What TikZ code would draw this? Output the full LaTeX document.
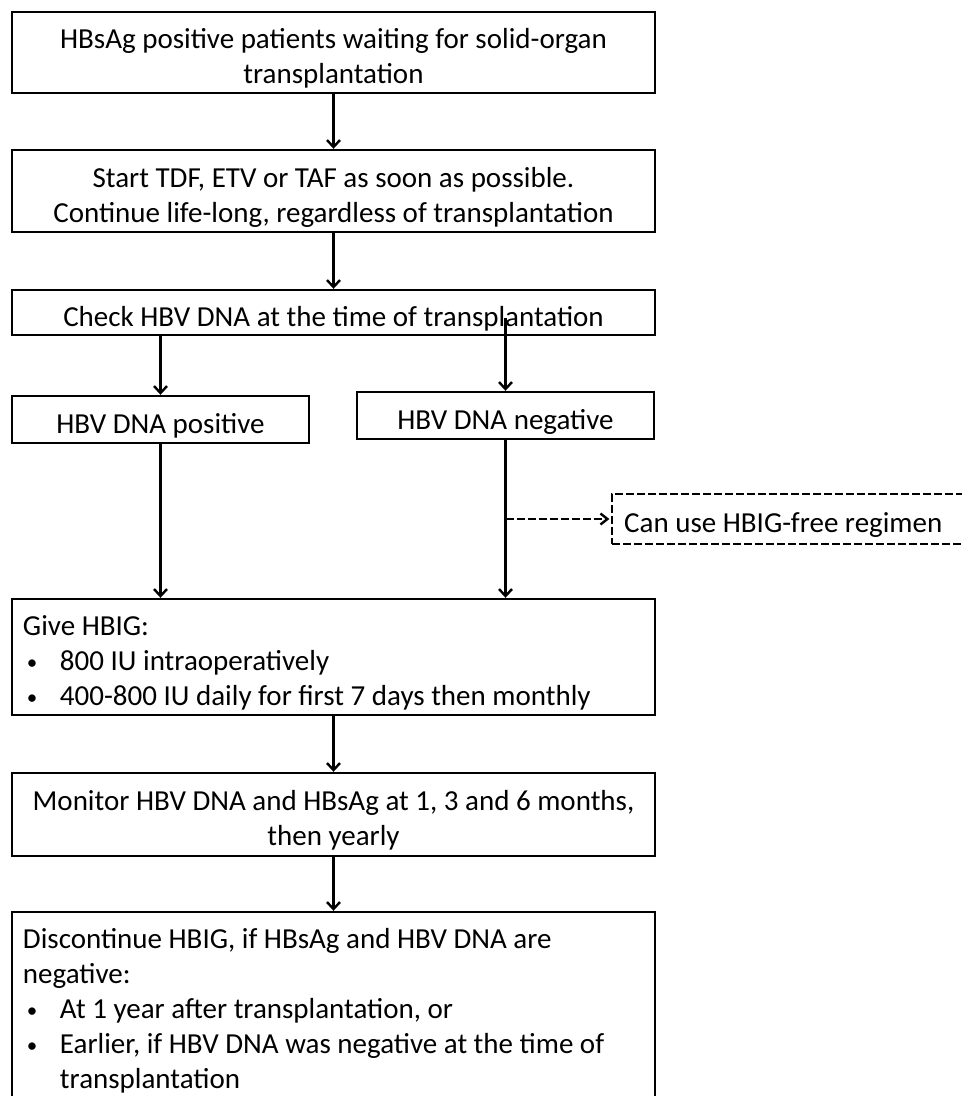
\documentclass[tikz,border=0pt]{standalone}
\usepackage{fontspec}
\setmainfont{Carlito}
\usetikzlibrary{arrows.meta,calc}
\begin{document}
\begin{tikzpicture}[x=1pt,y=-1pt,
  box/.style={draw,line width=2.4pt,rectangle,inner sep=0pt,font=\fontsize{29}{35}\selectfont},
  lbox/.style={box,inner xsep=11pt},
  flow/.style={line width=2.4pt,-{Straight Barb[length=7pt,width=13pt,line width=2.4pt]}},
  dflow/.style={line width=2.4pt,dash pattern=on 8pt off 3pt,-{Straight Barb[length=7pt,width=11pt,line width=2.4pt,sep]}},
  dbox/.style={box,dash pattern=on 8pt off 3pt,inner xsep=12pt}]
\useasboundingbox (0,0) rectangle (962,1096);
\clip (0,0) rectangle (962,1096);
\fill[white] (0,0) rectangle (962,1096);
\newcommand{\blt}{\hspace*{4pt}\makebox[33pt][l]{\raisebox{1.5pt}{\fontsize{21}{21}\selectfont\textbullet}}}
\newcommand{\up}{\rule{0pt}{32pt}}
\node[box,minimum width=643pt,minimum height=81pt,align=center] (b1) at (333.5,52.5)
  {\up HBsAg positive patients waiting for solid-organ\\transplantation};
\node[box,minimum width=643pt,minimum height=82pt,align=center] (b2) at (333.5,191)
  {\up Start TDF, ETV or TAF as soon as possible.\\Continue life-long, regardless of transplantation};
\node[box,minimum width=643pt,minimum height=45pt] (b3) at (333.5,312.5)
  {\up Check HBV DNA at the time of transplantation};
\node[box,minimum width=297pt,minimum height=47pt] (b4) at (160.5,419.5) {\up HBV DNA positive};
\node[box,minimum width=297pt,minimum height=47pt] (b5) at (505.5,415.5) {\up HBV DNA negative};
\node[lbox,minimum height=116pt] (b6) at (333.5,657)
  {\parbox[c]{621pt}{\raggedright\up Give HBIG:\\
   \blt 800 IU intraoperatively\\
   \blt 400-800 IU daily for first 7 days then monthly}};
\node[box,minimum width=643pt,minimum height=83pt,align=center] (b7) at (333.5,814.5)
  {\up Monitor HBV DNA and HBsAg at 1, 3 and 6 months,\\then yearly};
\node[lbox,minimum height=198pt] (b8) at (333.5,1011)
  {\parbox[c]{621pt}{\raggedright Discontinue HBIG, if HBsAg and HBV DNA are\\
   negative:\\
   \blt At 1 year after transplantation, or\\
   \blt Earlier, if HBV DNA was negative at the time of\\
   \hspace*{37pt}transplantation}};
\node[dbox,minimum height=50pt,anchor=west] (d) at (611,519)
  {\parbox{336pt}{\raggedright\up Can use HBIG-free regimen}};
\coordinate (s5) at (505.5,318);
\coordinate (ds) at (505.5,519);
\draw[flow] (b1.south) -- (b2.north);
\draw[flow] (b2.south) -- (b3.north);
\draw[flow] (b3.south -| b4.north) -- (b4.north);
\draw[flow] (s5) -- (b5.north);
\draw[flow] (b4.south) -- (b6.north -| b4.south);
\draw[flow] (b5.south) -- (b6.north -| b5.south);
\draw[dflow] (ds) -- (d.west);
\draw[flow] (b6.south) -- (b7.north);
\draw[flow] (b7.south) -- (b8.north);
\end{tikzpicture}
\end{document}
